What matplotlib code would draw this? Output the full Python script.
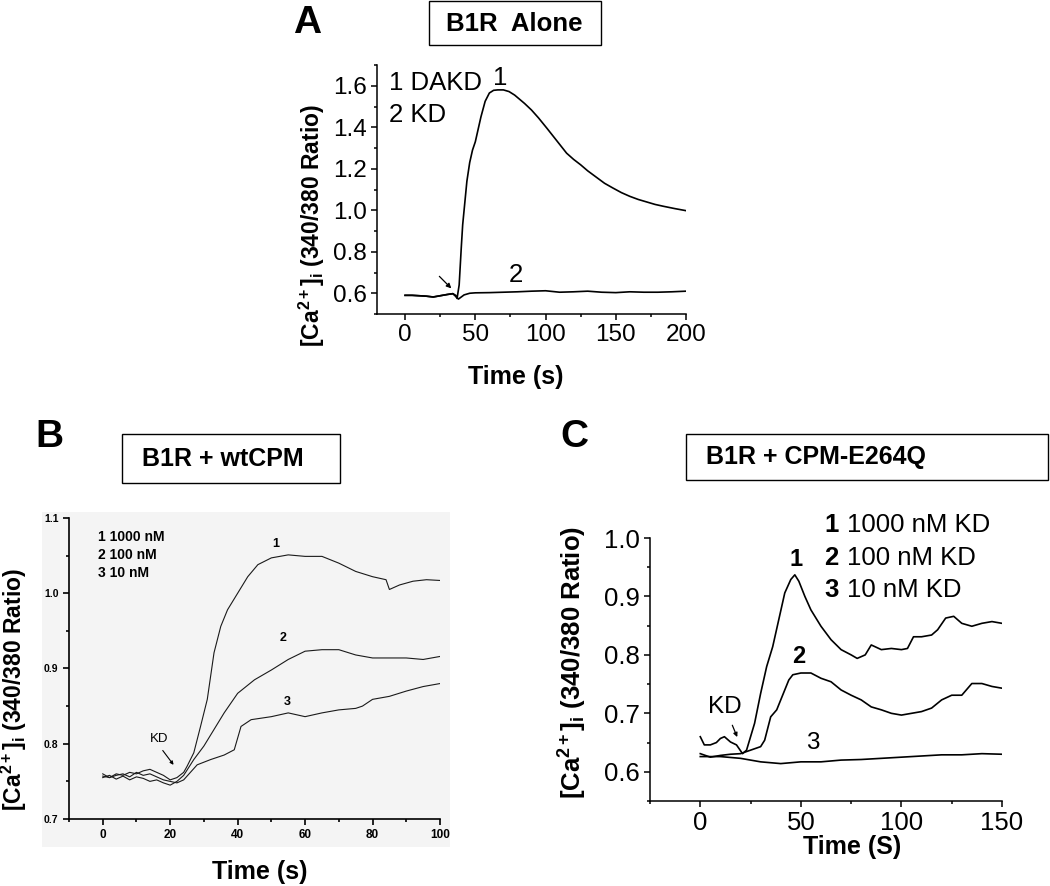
import matplotlib
matplotlib.use("Agg")
import matplotlib.pyplot as plt
from matplotlib.ticker import MultipleLocator
from matplotlib.patches import Rectangle

plt.rcParams['font.family'] = ['Liberation Sans', 'DejaVu Sans']
plt.rcParams['mathtext.fontset'] = 'custom'
plt.rcParams['mathtext.rm'] = 'Liberation Sans'
plt.rcParams['mathtext.bf'] = 'Liberation Sans:bold'
plt.rcParams['mathtext.it'] = 'Liberation Sans:italic'

# ---------------- data ----------------
# Panel A: B1R alone
a1_t = [0, 5, 10, 15, 20, 25, 30, 34, 36, 37, 38.5, 40, 41, 42, 44, 46, 48, 50, 52, 54, 57, 60, 63, 66,
        70, 74, 78, 85, 90, 95, 101, 108, 115, 120, 125, 130, 137, 142, 148, 154, 160, 166, 172, 178,
        184, 192, 200]
a1_y = [0.59, 0.59, 0.588, 0.586, 0.582, 0.588, 0.594, 0.598, 0.59, 0.575, 0.64, 0.82, 0.93, 1.0, 1.14,
        1.23, 1.29, 1.33, 1.39, 1.45, 1.525, 1.565, 1.578, 1.58, 1.58, 1.572, 1.555, 1.515, 1.483, 1.445,
        1.395, 1.335, 1.275, 1.245, 1.219, 1.19, 1.155, 1.13, 1.107, 1.085, 1.067, 1.052, 1.04, 1.028,
        1.019, 1.008, 0.998]
a2_t = [0, 5, 10, 15, 20, 25, 30, 34, 36, 38, 42, 46, 50, 60, 70, 80, 90, 100, 110, 120, 130, 140, 150,
        160, 170, 180, 190, 200]
a2_y = [0.59, 0.59, 0.588, 0.586, 0.582, 0.588, 0.594, 0.598, 0.585, 0.572, 0.592, 0.6, 0.602, 0.603,
        0.605, 0.607, 0.61, 0.612, 0.605, 0.607, 0.61, 0.605, 0.603, 0.607, 0.605, 0.605, 0.607, 0.61]

# Panel B: B1R + wtCPM
b1_t = [0, 2, 4, 6, 8, 10, 12, 14, 16, 18, 20, 22, 24, 25, 27, 29, 31, 33, 35, 37, 40, 43, 46, 50, 55,
        60, 65, 70, 75, 80, 84, 85, 88, 92, 96, 100]
b1_y = [0.757, 0.755, 0.76, 0.758, 0.762, 0.76, 0.764, 0.766, 0.762, 0.758, 0.752, 0.755, 0.762, 0.77,
        0.788, 0.823, 0.859, 0.921, 0.956, 0.978, 1.0, 1.022, 1.038, 1.047, 1.051, 1.049, 1.049, 1.04,
        1.029, 1.022, 1.018, 1.005, 1.011, 1.016, 1.018, 1.017]
b2_t = [0, 2, 4, 6, 8, 10, 12, 14, 16, 18, 20, 22, 24, 27, 30, 33, 36, 40, 45, 50, 55, 60, 65, 70, 75,
        80, 85, 90, 95, 100]
b2_y = [0.755, 0.758, 0.753, 0.757, 0.752, 0.756, 0.754, 0.75, 0.752, 0.748, 0.745, 0.75, 0.758, 0.779,
        0.797, 0.819, 0.841, 0.867, 0.885, 0.898, 0.912, 0.923, 0.925, 0.925, 0.918, 0.914, 0.914, 0.914,
        0.912, 0.916]
b3_t = [0, 2, 4, 6, 8, 10, 12, 14, 16, 18, 20, 22, 24, 26, 28, 32, 36, 39, 41, 44, 50, 55, 60, 65, 70,
        75, 77, 80, 85, 90, 95, 100]
b3_y = [0.76, 0.755, 0.758, 0.76, 0.756, 0.762, 0.758, 0.76, 0.756, 0.752, 0.75, 0.748, 0.752, 0.762,
        0.772, 0.779, 0.785, 0.792, 0.823, 0.832, 0.836, 0.841, 0.836, 0.841, 0.845, 0.847, 0.85, 0.859,
        0.863, 0.87, 0.876, 0.88]

# Panel C: B1R + CPM-E264Q
c1_t = [0, 2, 5, 8, 10, 12, 15, 18, 21, 23, 25, 27, 30, 33, 36, 39, 42, 45, 47, 49, 52, 55, 60, 65, 70,
        75, 78, 82, 85, 90, 95, 100, 103, 106, 110, 115, 118, 122, 126, 130, 135, 140, 145, 150]
c1_y = [0.66, 0.646, 0.646, 0.65, 0.657, 0.66, 0.651, 0.646, 0.631, 0.637, 0.66, 0.683, 0.734, 0.78,
        0.814, 0.86, 0.906, 0.929, 0.937, 0.926, 0.9, 0.877, 0.849, 0.826, 0.809, 0.8, 0.794, 0.8, 0.817,
        0.809, 0.811, 0.809, 0.811, 0.831, 0.831, 0.834, 0.843, 0.863, 0.866, 0.854, 0.849, 0.854, 0.857,
        0.854]
c2_t = [0, 5, 10, 15, 20, 25, 30, 32, 35, 38, 40, 42, 44, 46, 50, 55, 60, 65, 70, 75, 80, 85, 90, 95,
        100, 105, 110, 115, 120, 125, 130, 135, 140, 145, 150]
c2_y = [0.631, 0.625, 0.628, 0.63, 0.631, 0.637, 0.643, 0.654, 0.694, 0.706, 0.723, 0.74, 0.757, 0.766,
        0.769, 0.769, 0.76, 0.754, 0.74, 0.731, 0.723, 0.711, 0.706, 0.7, 0.697, 0.7, 0.703, 0.709, 0.723,
        0.731, 0.731, 0.751, 0.751, 0.746, 0.743]
c3_t = [0, 10, 20, 30, 40, 50, 60, 70, 80, 90, 100, 110, 120, 130, 140, 150]
c3_y = [0.626, 0.626, 0.623, 0.617, 0.614, 0.617, 0.617, 0.62, 0.621, 0.623, 0.625, 0.627, 0.629,
        0.629, 0.631, 0.63]

panel_titles = ["B1R  Alone", "B1R + wtCPM", "B1R + CPM-E264Q"]
legend_a = ["1 DAKD", "2 KD"]
legend_b = ["1 1000 nM", "2 100 nM", "3 10 nM"]
legend_c_num = ["1", "2", "3"]
legend_c_txt = ["1000 nM KD", "100 nM KD", "10 nM KD"]
ylab = r"[Ca$^{\mathbf{2+}}$]$_{\mathbf{i}}$ (340/380 Ratio)"

# ---------------- layout ----------------
W, H = 1050, 886
fig = plt.figure(figsize=(W / 100, H / 100), dpi=100)


def fx(x):
    return x / W


def fy(y):
    return 1 - y / H


def axes_px(l, t, r, b):
    return fig.add_axes([fx(l), fy(b), (r - l) / W, (b - t) / H])


def style(ax, lw=1.1):
    for s in ['top', 'right']:
        ax.spines[s].set_visible(False)
    for s in ['left', 'bottom']:
        ax.spines[s].set_linewidth(lw)
    ax.tick_params(which='both', direction='out', width=lw)
    ax.tick_params(which='major', length=4.5)
    ax.tick_params(which='minor', length=2.5)


def title_box(l, t, r, b, text, tx, ty, ha='center', size=18):
    fig.patches.append(Rectangle((fx(l), fy(b)), (r - l) / W, (b - t) / H, transform=fig.transFigure,
                                 fc='white', ec='black', lw=1.0))
    fig.text(fx(tx), fy(ty), text, ha=ha, va='center', fontsize=size, fontweight='bold')


# ---- Panel A ----
axA = axes_px(377, 65, 686, 314)
style(axA)
axA.plot(a1_t, a1_y, color='black', lw=1.2)
axA.plot(a2_t, a2_y, color='black', lw=1.2)
axA.set_xlim(-20, 200)
axA.set_ylim(0.5, 1.7)
axA.xaxis.set_major_locator(MultipleLocator(50))
axA.xaxis.set_minor_locator(MultipleLocator(25))
axA.set_yticks([0.6, 0.8, 1.0, 1.2, 1.4, 1.6])
axA.yaxis.set_minor_locator(MultipleLocator(0.1))
axA.tick_params(labelsize=17.5, pad=3)
axA.text(-11.6, 1.614, legend_a[0], fontsize=18.5, va='center', ha='left')
axA.text(-11.6, 1.46, legend_a[1], fontsize=18.5, va='center', ha='left')
axA.text(68, 1.638, "1", fontsize=18.5, ha='center', va='center')
axA.text(78.6, 0.688, "2", fontsize=18.5, ha='center', va='center')
axA.annotate("", xy=(34.3, 0.614), xytext=(23, 0.691),
             arrowprops=dict(arrowstyle='-|>', lw=0.9, color='black', mutation_scale=7))
fig.text(fx(516), fy(377), "Time (s)", ha='center', va='center', fontsize=18, fontweight='bold')
fig.text(fx(312), fy(226), ylab, rotation=90, ha='center', va='center', fontsize=16.5, fontweight='bold')
fig.text(fx(307), fy(23), "A", ha='center', va='center', fontsize=28, fontweight='bold')
title_box(429, 1, 601, 45, panel_titles[0], 514, 24, size=18.5)

# ---- Panel B ----
fig.patches.append(Rectangle((fx(42), fy(847)), (450 - 42) / W, (847 - 512) / H,
                             transform=fig.transFigure, fc='#f4f4f4', ec='none', zorder=-5))
axB = axes_px(69, 518, 440, 819)
axB.set_zorder(2)
axB.patch.set_alpha(0)
style(axB, lw=1.2)
for t_, y_ in [(b1_t, b1_y), (b2_t, b2_y), (b3_t, b3_y)]:
    axB.plot(t_, y_, color='#1a1a1a', lw=0.8)
axB.set_xlim(-10, 100)
axB.set_ylim(0.7, 1.1)
axB.xaxis.set_major_locator(MultipleLocator(20))
axB.xaxis.set_minor_locator(MultipleLocator(10))
axB.yaxis.set_major_locator(MultipleLocator(0.1))
axB.yaxis.set_minor_locator(MultipleLocator(0.05))
axB.tick_params(labelsize=7.5, pad=3)
axB.tick_params(axis='x', labelsize=8.5)
for lab in axB.get_xticklabels() + axB.get_yticklabels():
    lab.set_fontweight('bold')
for i, yy in enumerate([1.075, 1.051, 1.027]):
    axB.text(-1.5, yy, legend_b[i], fontsize=10, fontweight='bold', va='center', ha='left')
axB.text(51.4, 1.065, "1", fontsize=9, fontweight='bold', ha='center', va='center')
axB.text(53.4, 0.94, "2", fontsize=9, fontweight='bold', ha='center', va='center')
axB.text(54.6, 0.856, "3", fontsize=9, fontweight='bold', ha='center', va='center')
axB.text(16.6, 0.806, "KD", fontsize=9.5, ha='center', va='center')
axB.annotate("", xy=(21.5, 0.769), xytext=(17.3, 0.794),
             arrowprops=dict(arrowstyle='-|>', lw=0.8, color='black', mutation_scale=5))
fig.text(fx(260), fy(872), "Time (s)", ha='center', va='center', fontsize=18, fontweight='bold')
fig.text(fx(14), fy(690), ylab, rotation=90, ha='center', va='center', fontsize=16.5, fontweight='bold')
fig.text(fx(49), fy(437), "B", ha='center', va='center', fontsize=28, fontweight='bold')
title_box(122, 434, 340, 483, panel_titles[1], 223, 459, size=18)

# ---- Panel C ----
axC = axes_px(650, 538, 1002, 801)
style(axC)
for t_, y_ in [(c1_t, c1_y), (c2_t, c2_y), (c3_t, c3_y)]:
    axC.plot(t_, y_, color='black', lw=1.2)
axC.set_xlim(-25, 150)
axC.set_ylim(0.55, 1.0)
axC.set_xticks([0, 50, 100, 150])
axC.xaxis.set_minor_locator(MultipleLocator(25))
axC.set_yticks([0.6, 0.7, 0.8, 0.9, 1.0])
axC.yaxis.set_minor_locator(MultipleLocator(0.05))
axC.tick_params(labelsize=18.5, pad=3)
for i, yy in enumerate([1.023, 0.966, 0.911]):
    axC.text(61.8, yy, legend_c_num[i], fontsize=18.5, fontweight='bold', va='center', ha='left',
             clip_on=False)
    axC.text(72.7, yy, legend_c_txt[i], fontsize=18.5, va='center', ha='left', clip_on=False)
axC.text(47.8, 0.963, "1", fontsize=17, fontweight='bold', ha='center', va='center')
axC.text(49.1, 0.797, "2", fontsize=17, fontweight='bold', ha='center', va='center')
axC.text(55.7, 0.65, "3", fontsize=17.5, ha='center', va='center')
axC.text(12.1, 0.711, "KD", fontsize=17.5, ha='center', va='center')
axC.annotate("", xy=(18.9, 0.655), xytext=(15.4, 0.684),
             arrowprops=dict(arrowstyle='-|>', lw=0.9, color='black', mutation_scale=6))
fig.text(fx(852), fy(847), "Time (S)", ha='center', va='center', fontsize=18, fontweight='bold')
fig.text(fx(573), fy(662), ylab, rotation=90, ha='center', va='center', fontsize=18.5, fontweight='bold')
fig.text(fx(574), fy(437), "C", ha='center', va='center', fontsize=28, fontweight='bold')
title_box(686, 434, 1048, 480, panel_titles[2], 706, 457, ha='left', size=18)

fig.savefig("out.png", dpi=100)
